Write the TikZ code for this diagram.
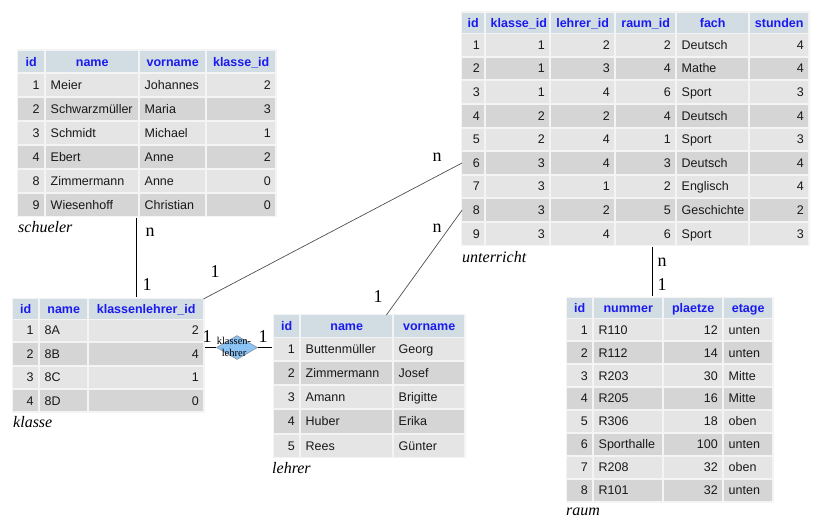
\documentclass[tikz,border=0pt]{standalone}
\usepackage{fontspec}
\setmainfont{Liberation Serif}
\setsansfont{Liberation Sans}
\usetikzlibrary{shapes.geometric,fit,backgrounds}
\definecolor{hdrbg}{RGB}{209,221,227}
\definecolor{hdrtxt}{RGB}{26,26,238}
\definecolor{rowa}{RGB}{229,229,229}
\definecolor{rowb}{RGB}{213,213,213}
\definecolor{tblbg}{RGB}{244,244,244}
\definecolor{txt}{RGB}{25,25,25}
\definecolor{diablue}{RGB}{140,195,245}
\definecolor{lnk}{RGB}{80,80,80}
\newcommand\mystrut{\rule[-2.5pt]{0pt}{13.8pt}}
\tikzset{
  cellbase/.style={inner xsep=4.5pt,inner ysep=0pt,font=\fontsize{12.5}{14}\sffamily,text=txt,execute at begin node=\mystrut},
  hdr/.style={fill=hdrbg,text=hdrtxt,font=\fontsize{12.5}{14}\sffamily\bfseries},
  tblback/.style={fill=tblbg,draw=none,inner sep=1.5pt},
  caption/.style={font=\fontsize{16}{18}\selectfont\itshape,anchor=west,inner sep=0pt},
  card/.style={font=\fontsize{18}{20}\selectfont,inner sep=0pt},
  conn/.style={draw=black,line width=1pt},
  thinconn/.style={draw=lnk,line width=0.7pt},
  relation/.style={diamond,draw=gray,fill=diablue,minimum width=41pt,minimum height=24pt,inner sep=0pt},
  reltext/.style={font=\fontsize{10.5}{12}\selectfont,align=center,inner sep=0pt}
}
% header row: prefix, ytop, height, cells xa/xb/text
\newcommand\headrow[4]{%
  \foreach \xa/\xb/\tx [count=\ci] in {#4} {%
    \pgfmathsetmacro\tw{\xb-\xa-9}%
    \node[cellbase,hdr,align=center,text width=\tw pt,minimum height=#3pt,anchor=north west] (#1-0-\ci) at (\xa,#2) {\tx};
  }}
% data row: prefix, index, y0, pitch, height, cells xa/xb/align/text
\newcommand\datarow[6]{%
  \pgfmathsetmacro\ytop{#3+#4*(#2-1)}%
  \ifodd#2\relax\def\rs{rowa}\else\def\rs{rowb}\fi
  \foreach \xa/\xb/\aln/\tx [count=\ci] in {#6} {%
    \pgfmathsetmacro\tw{\xb-\xa-9}%
    \node[cellbase,fill=\rs,align/.expanded=\aln,text width=\tw pt,minimum height=#5pt,anchor=north west] (#1-#2-\ci) at (\xa,\ytop) {\tx};
  }}
\newcommand\rowS[5]{\datarow{s}{#1}{73.5}{24}{22}{18/44/right/#2,46/138/left/#3,140/205/left/#4,207/275/right/#5}}
\newcommand\rowU[6]{\datarow{u}{#1}{34}{23.6}{21.6}{462/484/right/#1,486/549/right/#2,551/614/right/#3,616/675/right/#4,677/748/left/#5,750/808/right/#6}}
\newcommand\rowK[3]{\datarow{k}{#1}{319.5}{23.4}{21.4}{13/38/right/#1,40/87/left/#2,89/203/right/#3}}
\newcommand\rowL[3]{\datarow{l}{#1}{337.5}{24.2}{22.2}{274/299/right/#1,301/392/left/#2,394/464/left/#3}}
\newcommand\rowR[4]{\datarow{r}{#1}{319}{22.95}{21}{567/592/right/#1,594/662/left/#2,664/722/right/#3,724/772/left/#4}}

\begin{document}
\begin{tikzpicture}[x=1pt,y=-1pt]
\useasboundingbox (0,0) rectangle (818,521);

% schueler
\headrow{s}{51}{21}{18/44/id,46/138/name,140/205/vorname,207/275/klasse\_id}
\rowS{1}{1}{Meier}{Johannes}{2}
\rowS{2}{2}{Schwarzmüller}{Maria}{3}
\rowS{3}{3}{Schmidt}{Michael}{1}
\rowS{4}{4}{Ebert}{Anne}{2}
\rowS{5}{8}{Zimmermann}{Anne}{0}
\rowS{6}{9}{Wiesenhoff}{Christian}{0}

% unterricht
\headrow{u}{12.5}{20}{462/484/id,486/549/klasse\_id,551/614/lehrer\_id,616/675/raum\_id,677/748/fach,750/808/stunden}
\rowU{1}{1}{2}{2}{Deutsch}{4}
\rowU{2}{1}{3}{4}{Mathe}{4}
\rowU{3}{1}{4}{6}{Sport}{3}
\rowU{4}{2}{2}{4}{Deutsch}{4}
\rowU{5}{2}{4}{1}{Sport}{3}
\rowU{6}{3}{4}{3}{Deutsch}{4}
\rowU{7}{3}{1}{2}{Englisch}{4}
\rowU{8}{3}{2}{5}{Geschichte}{2}
\rowU{9}{3}{4}{6}{Sport}{3}

% klasse
\headrow{k}{299}{19.5}{13/38/id,40/87/name,89/203/klassenlehrer\_id}
\rowK{1}{8A}{2}
\rowK{2}{8B}{4}
\rowK{3}{8C}{1}
\rowK{4}{8D}{0}

% lehrer
\headrow{l}{315}{21.5}{274/299/id,301/392/name,394/464/vorname}
\rowL{1}{Buttenmüller}{Georg}
\rowL{2}{Zimmermann}{Josef}
\rowL{3}{Amann}{Brigitte}
\rowL{4}{Huber}{Erika}
\rowL{5}{Rees}{Günter}

% raum
\headrow{r}{298}{19.5}{567/592/id,594/662/nummer,664/722/plaetze,724/772/etage}
\rowR{1}{R110}{12}{unten}
\rowR{2}{R112}{14}{unten}
\rowR{3}{R203}{30}{Mitte}
\rowR{4}{R205}{16}{Mitte}
\rowR{5}{R306}{18}{oben}
\rowR{6}{Sporthalle}{100}{unten}
\rowR{7}{R208}{32}{oben}
\rowR{8}{R101}{32}{unten}

\begin{scope}[on background layer]
  \fill[white] (0,0) rectangle (818,521);
  \node[tblback,fit=(s-0-1)(s-6-4)] (schueler) {};
  \node[tblback,fit=(u-0-1)(u-9-6)] (unterricht) {};
  \node[tblback,fit=(k-0-1)(k-4-3)] (klasse) {};
  \node[tblback,fit=(l-0-1)(l-5-3)] (lehrer) {};
  \node[tblback,fit=(r-0-1)(r-8-4)] (raum) {};
\end{scope}

% captions
\node[caption] (capS) at (18,227) {schueler};
\node[caption] (capU) at (462,257) {unterricht};
\node[caption] (capK) at (13,422) {klasse};
\node[caption] (capL) at (272,468) {lehrer};
\node[caption] (capR) at (566,512) {raum};

% connectors
\coordinate (sk) at ([xshift=-2pt]s-6-2.south east);
\draw[conn] (sk |- schueler.south) -- (sk |- klasse.north);
\draw[thinconn] (k-0-3.north east) -- (u-6-1.west);
\coordinate (lk) at ([xshift=-6pt]l-0-2.north east);
\draw[thinconn] (lk) -- (u-8-1.west);
\coordinate (ur) at ([xshift=-10pt]r-0-2.north east);
\draw[conn] (ur |- unterricht.south) -- (ur |- raum.north);

% relationship diamond
\node[relation] (dia) at (237,347.5) {};
\node[reltext] (diatext) at (234,346.5) {klassen-\\lehrer};
\draw[conn] (dia.west -| klasse.east) -- (dia.west);
\draw[conn] (dia.east) -- (dia.east -| lehrer.west);

% cardinalities
\node[card] (c1) at (150,232) {n};
\node[card] (c2) at (147,285) {1};
\node[card] (c3) at (215,272) {1};
\node[card] (c4) at (437,157) {n};
\node[card] (c5) at (378,297) {1};
\node[card] (c6) at (437,228) {n};
\node[card] (c7) at (662,262) {n};
\node[card] (c8) at (662,285) {1};
\node[card] (c9) at (207,337) {1};
\node[card] (c10) at (263,337) {1};
\end{tikzpicture}
\end{document}
